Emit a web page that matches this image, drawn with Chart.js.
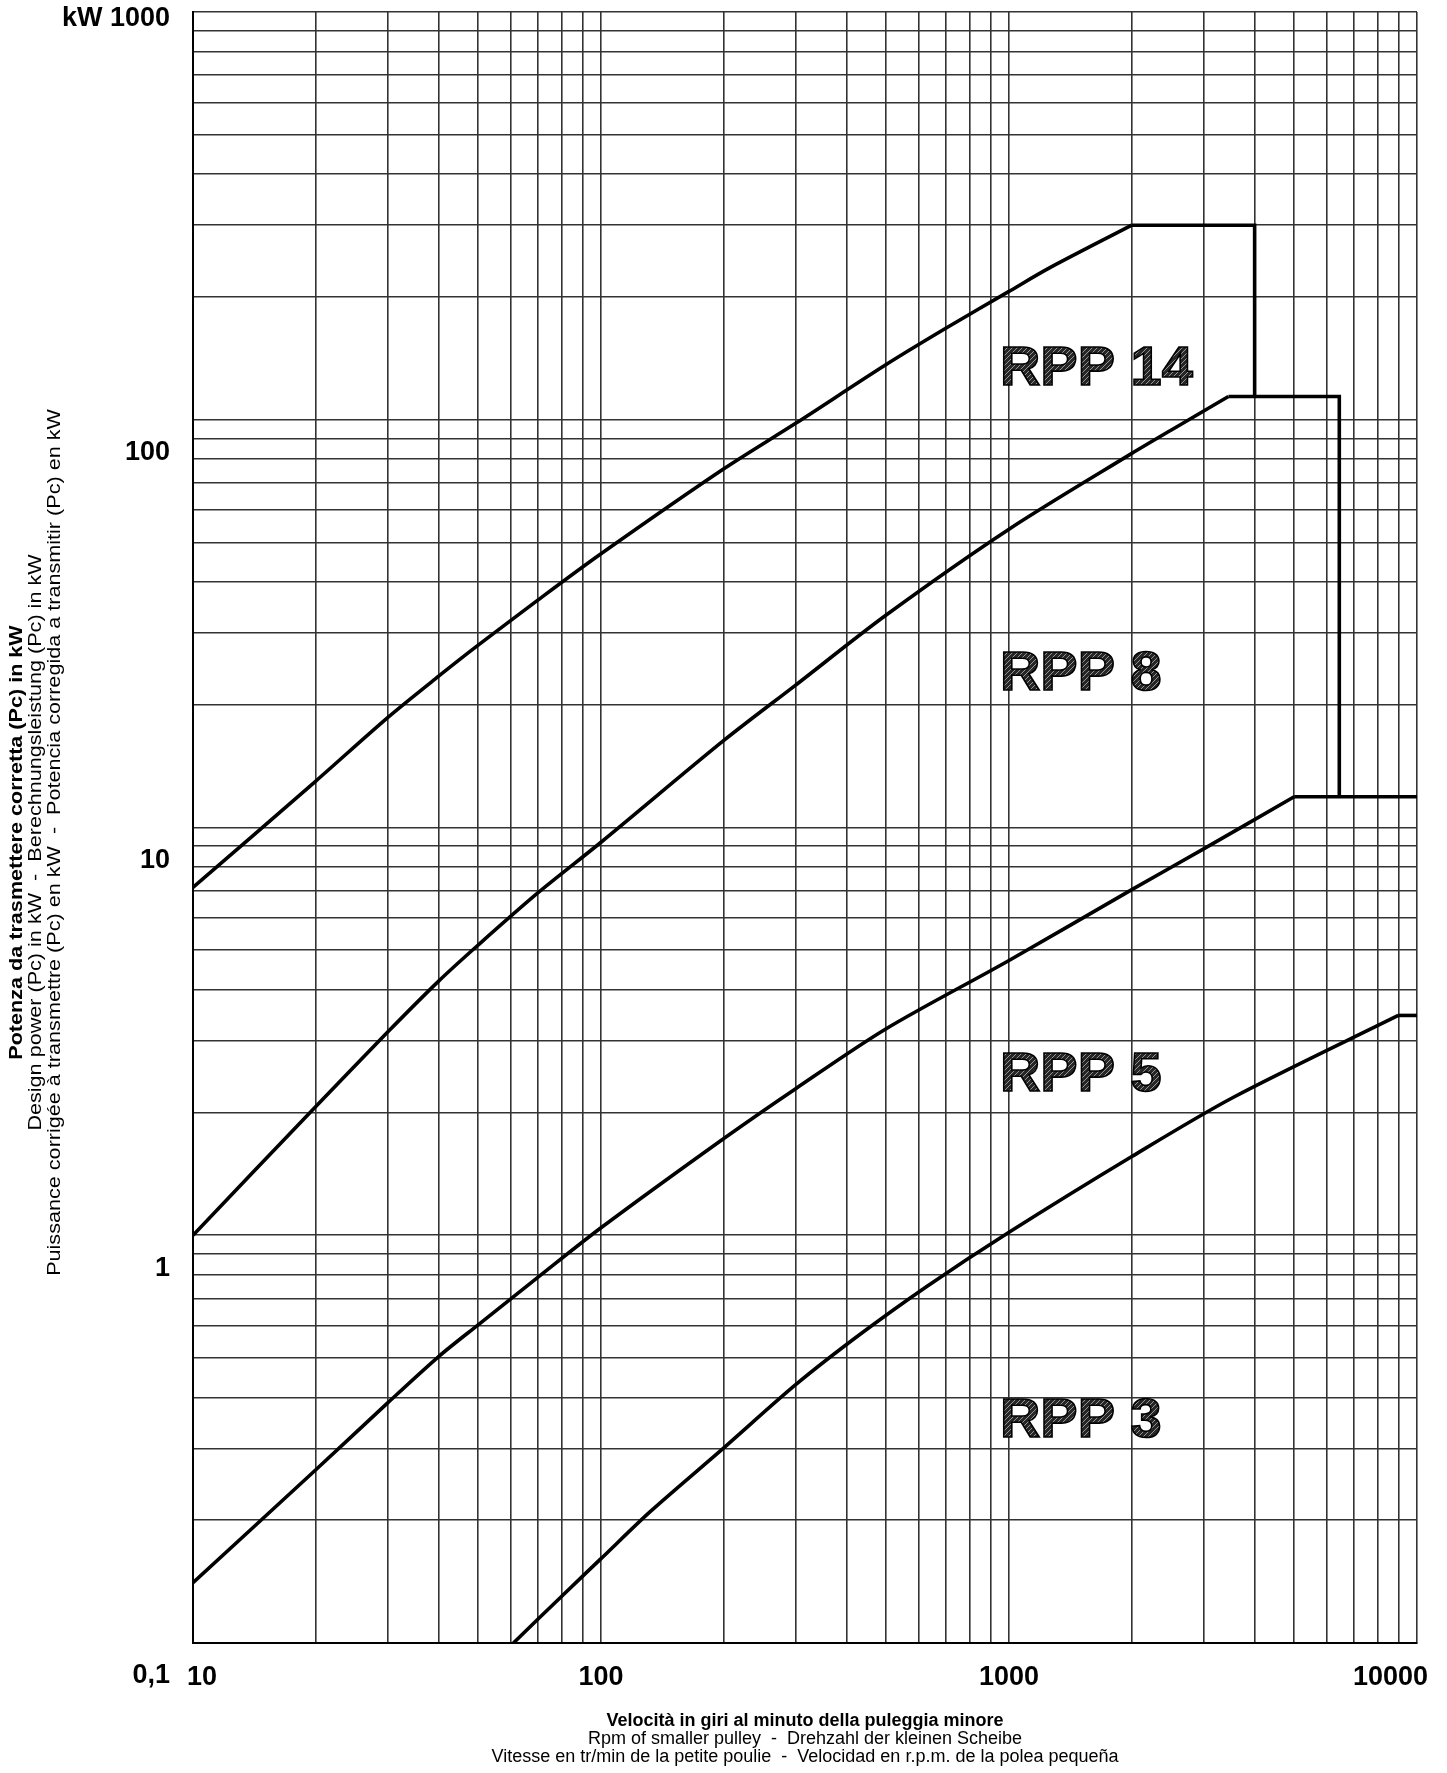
<!DOCTYPE html>
<html>
<head>
<meta charset="utf-8">
<script src="https://cdn.jsdelivr.net/npm/chart.js@4.4.1/dist/chart.umd.min.js"></script>
<style>
  html, body { margin: 0; padding: 0; background: #fff; }
  canvas { display: block; }
</style>
</head>
<body>
<canvas id="chart" width="1447" height="1773"></canvas>
<script>
// values (rpm of small pulley -> kW)
const rpp14Rpm = [10, 20, 30, 40, 50, 70, 100, 200, 300, 500, 700, 1000, 1260, 2000];
const rpp14Kw  = [7.13, 13.0, 18.6, 23.5, 28.0, 36.1, 46.9, 75.8, 98, 136.6, 167.6, 206.4, 236, 300];
const rpp14StepRpm = [2000, 4000, 4000];
const rpp14StepKw  = [300, 300, 114];

const rpp8Rpm = [10, 20, 30, 40, 50, 70, 100, 200, 300, 500, 1000, 2000, 2500, 3450];
const rpp8Kw  = [1.0, 2.07, 3.15, 4.2, 5.15, 6.91, 9.2, 16.35, 22.35, 33.2, 53.9, 82.7, 94.4, 114];
const rpp8StepRpm = [3450, 6450, 6450];
const rpp8StepKw  = [114, 114, 11.9];

const rpp5Rpm = [10, 20, 30, 40, 50, 70, 100, 200, 300, 500, 1000, 2000, 3000, 5000];
const rpp5Kw  = [0.1405, 0.266, 0.388, 0.504, 0.603, 0.788, 1.043, 1.727, 2.288, 3.21, 4.72, 7.04, 8.86, 11.9];
const rpp5StepRpm = [5000, 10000];
const rpp5StepKw  = [11.9, 11.9];

const rpp3Rpm = [61, 80.6, 100, 132, 200, 300, 430, 630, 1000, 2000, 3550, 9000];
const rpp3Kw  = [0.1, 0.131, 0.161, 0.21, 0.301, 0.43, 0.57, 0.75, 1.017, 1.56, 2.18, 3.46];
const rpp3StepRpm = [9000, 10000];
const rpp3StepKw  = [3.46, 3.46];

const xTickValues = [10, 100, 1000, 10000];
const xTickLabels = ["10", "100", "1000", "10000"];
const yTickValues = [1000, 100, 10, 1, 0.1];
const yTickLabels = ["kW 1000", "100", "10", "1", "0,1"];

const curveLabels   = ["RPP 14", "RPP 8", "RPP 5", "RPP 3"];
const curveLabelRpm = [950, 950, 950, 950];
const curveLabelKw  = [133, 23.7, 2.46, 0.35];

const xTitle = [
  "Velocità in giri al minuto della puleggia minore",
  "Rpm of smaller pulley  -  Drehzahl der kleinen Scheibe",
  "Vitesse en tr/min de la petite poulie  -  Velocidad en r.p.m. de la polea pequeña"
];
const yTitle = [
  "Potenza da trasmettere corretta (Pc) in kW",
  "Design power (Pc) in kW  -  Berechnungsleistung (Pc) in kW",
  "Puissance corrigée à transmettre (Pc) en kW  -  Potencia corregida a transmitir (Pc) en kW"
];

const FONT = "'Liberation Sans', Arial, sans-serif";

function toPoints(xs, ys) {
  return xs.map((x, i) => ({ x: x, y: ys[i] }));
}

// log paper: a line at every 1..9 x 10^n
function logGrid(scale) {
  const ticks = [];
  for (let e = Math.floor(Math.log10(scale.min)); Math.pow(10, e) <= scale.max; e++) {
    for (let m = 1; m <= 9; m++) {
      const v = +(m * Math.pow(10, e)).toPrecision(3);
      if (v >= scale.min && v <= scale.max) ticks.push({ value: v });
    }
  }
  scale.ticks = ticks;
}

function makeHatch(ctx) {
  const c = document.createElement("canvas");
  c.width = 5; c.height = 5;
  const g = c.getContext("2d");
  g.fillStyle = "#262626";
  g.fillRect(0, 0, 5, 5);
  g.strokeStyle = "#a0a0a0";
  g.lineWidth = 0.9;
  g.beginPath();
  g.moveTo(0, 5); g.lineTo(5, 0);
  g.moveTo(-1, 1); g.lineTo(1, -1);
  g.moveTo(4, 6); g.lineTo(6, 4);
  g.stroke();
  return ctx.createPattern(c, "repeat");
}

const textPlugin = {
  id: "chartText",
  afterDraw(chart) {
    const { ctx, chartArea } = chart;
    const x = chart.scales.x, y = chart.scales.y;
    ctx.save();
    ctx.fillStyle = "#000";
    ctx.textBaseline = "middle";

    // tick labels
    ctx.font = "bold 27px " + FONT;
    ctx.textAlign = "center";
    xTickValues.forEach((v, i) => {
      const w = ctx.measureText(xTickLabels[i]).width;
      let px = x.getPixelForValue(v);
      px = Math.min(Math.max(px, chartArea.left - 6 + w / 2), chartArea.right + 11 - w / 2);
      ctx.fillText(xTickLabels[i], px, chartArea.bottom + 35);
    });
    ctx.textAlign = "right";
    yTickValues.forEach((v, i) => {
      let py = y.getPixelForValue(v) + 33;
      if (v === y.max) py = chartArea.top + 7;
      ctx.fillText(yTickLabels[i], chartArea.left - 23, py);
    });

    // x axis title
    ctx.textAlign = "center";
    const cx = (chartArea.left + chartArea.right) / 2;
    xTitle.forEach((t, i) => {
      ctx.font = (i === 0 ? "bold " : "") + "18px " + FONT;
      ctx.fillText(t, cx, chartArea.bottom + 78 + i * 18);
    });

    // y axis title, rotated
    const cy = (chartArea.top + chartArea.bottom) / 2 + 15;
    yTitle.forEach((t, i) => {
      ctx.save();
      ctx.translate(17 + i * 19, cy);
      ctx.rotate(-Math.PI / 2);
      ctx.scale(1.2, 1);
      ctx.font = (i === 0 ? "bold " : "") + "18px " + FONT;
      ctx.fillText(t, 0, 0);
      ctx.restore();
    });

    // curve names, hatched lettering
    ctx.font = "bold 56px " + FONT;
    ctx.textAlign = "left";
    const hatch = makeHatch(ctx);
    curveLabels.forEach((t, i) => {
      const px = x.getPixelForValue(curveLabelRpm[i]);
      const py = y.getPixelForValue(curveLabelKw[i]);
      ctx.fillStyle = hatch;
      ctx.fillText(t, px, py);
      ctx.lineWidth = 1.6;
      ctx.strokeStyle = "#000";
      ctx.strokeText(t, px, py);
    });
    ctx.restore();
  }
};

const curves = [
  toPoints(rpp14Rpm, rpp14Kw),
  toPoints(rpp8Rpm, rpp8Kw),
  toPoints(rpp5Rpm, rpp5Kw),
  toPoints(rpp3Rpm, rpp3Kw)
];
const steps = [
  toPoints(rpp14StepRpm, rpp14StepKw),
  toPoints(rpp8StepRpm, rpp8StepKw),
  toPoints(rpp5StepRpm, rpp5StepKw),
  toPoints(rpp3StepRpm, rpp3StepKw)
];

function lineSet(label, pts, tension) {
  return {
    label: label,
    data: pts,
    showLine: true,
    fill: false,
    borderColor: "#000",
    borderWidth: 3.6,
    borderJoinStyle: "miter",
    pointRadius: 0,
    tension: tension
  };
}

new Chart(document.getElementById("chart"), {
  type: "scatter",
  data: {
    datasets: curves.map((pts, i) => lineSet(curveLabels[i], pts, 0.3))
      .concat(steps.map((pts, i) => lineSet(curveLabels[i] + " limit", pts, 0)))
  },
  options: {
    responsive: false,
    animation: false,
    layout: { padding: { left: 193, right: 30, top: 12, bottom: 130 } },
    plugins: { legend: { display: false }, tooltip: { enabled: false } },
    scales: {
      x: {
        type: "logarithmic", min: 10, max: 10000,
        afterBuildTicks: logGrid,
        ticks: { display: false },
        grid: { color: "#333", lineWidth: 1.6, drawTicks: false },
        border: { color: "#000", width: 2 }
      },
      y: {
        type: "logarithmic", min: 0.1, max: 1000,
        afterBuildTicks: logGrid,
        ticks: { display: false },
        grid: { color: "#333", lineWidth: 1.6, drawTicks: false },
        border: { color: "#000", width: 2 }
      }
    }
  },
  plugins: [textPlugin]
});
</script>
</body>
</html>
